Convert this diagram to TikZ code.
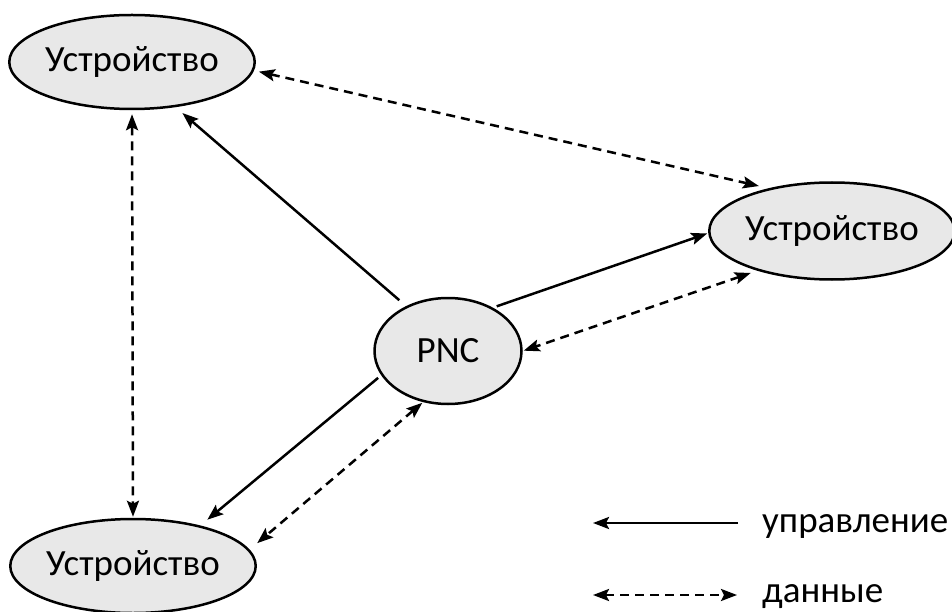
\documentclass[tikz,border=0pt]{standalone}
\usepackage{fontspec}
\setmainfont{Carlito}
\usetikzlibrary{shapes.geometric,arrows.meta}
\begin{document}
\begin{tikzpicture}[x=1pt,y=-1pt,
  tip/.tip={Stealth[length=16pt,width=12pt,inset=3pt]},
  dev/.style={ellipse,draw,line width=2.5pt,fill=gray!18,inner sep=0pt,
    font=\fontsize{37}{42}\selectfont},
  ctrl/.style={line width=2.5pt,-tip},
  data/.style={line width=2.5pt,dash pattern=on 9pt off 6pt,tip-tip},
  lbl/.style={anchor=base west,inner sep=0pt,font=\fontsize{37}{42}\selectfont}]
  \useasboundingbox (0,0) rectangle (952,612);
  % devices and coordinator
  \node[dev,minimum width=240pt,minimum height=94pt] (d1) at (132,62) {Устройство};
  \node[dev,minimum width=235pt,minimum height=97pt] (d2) at (832,231) {Устройство};
  \node[dev,minimum width=240pt,minimum height=94pt] (d3) at (133,566) {Устройство};
  \node[dev,minimum width=147pt,minimum height=106pt] (pnc) at (448,351) {PNC};
  % control links from the coordinator
  \draw[ctrl,shorten <=9pt,shorten >=9pt] (pnc.133) -- (d1.-46);
  \draw[ctrl,shorten <=4pt,shorten >=1pt] (pnc.44) -- (d2.181);
  \draw[ctrl,shorten <=4pt,shorten >=9pt] (pnc.-160) -- (d3.31);
  % data links between peers
  \draw[data,shorten <=5pt,shorten >=10pt] (d1.-4) -- (d2.146);
  \draw[data,shorten <=4pt,shorten >=1pt] (d1.-90) -- (d3.90);
  \draw[data,shorten <=7pt,shorten >=1pt] (d2.-152) -- (pnc.0);
  \draw[data,shorten <=1pt,shorten >=10pt] (pnc.-116) -- (d3.8);
  % legend
  \coordinate (l1a) at (593,523); \coordinate (l1b) at (738,523);
  \coordinate (l2a) at (593,595); \coordinate (l2b) at (737,595);
  \draw[ctrl] (l1b) -- (l1a);
  \draw[data] (l2a) -- (l2b);
  \node[lbl] (t1) at (762,532) {управление};
  \node[lbl] (t2) at (762,602) {данные};
\end{tikzpicture}
\end{document}
